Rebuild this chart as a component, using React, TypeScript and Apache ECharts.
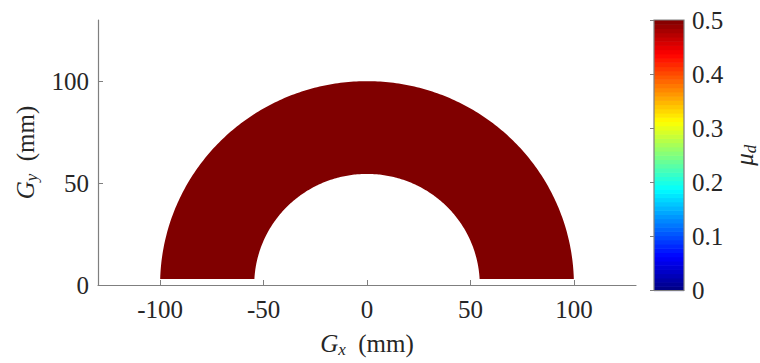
import React, { useEffect, useRef } from "react";
import * as echarts from "echarts";

// axis ranges and ticks
const xRange = [-130, 130];
const yRange = [0, 130];
const xTicks = [-100, -50, 0, 50, 100];
const yTicks = [0, 50, 100];
const cbRange = [0, 0.5];
const cbInterval = 0.1;

// region data: inner radius (mm), outer radius (mm), lower cut height (mm), mu_d
const innerRadius = [54.5];
const outerRadius = [100];
const cutHeight = [3];
const muValues = [0.5];

const cbLevels = 64;

const FONT = "serif";
const LINE = "#7f7f7f";
const TEXT = "#262626";

function jet(t: number): string {
  const c = (v: number) => Math.round(255 * Math.max(0, Math.min(1, v)));
  const r = c(1.5 - Math.abs(4 * t - 3));
  const g = c(1.5 - Math.abs(4 * t - 2));
  const b = c(1.5 - Math.abs(4 * t - 1));
  return `rgb(${r},${g},${b})`;
}
const jetStops = Array.from({ length: 9 }, (_, i) => jet(i / 8));

export default function App() {
  const ref = useRef<HTMLDivElement>(null);
  useEffect(() => {
    const chart = echarts.init(ref.current!, null, { renderer: "svg" });
    const regionData = innerRadius.map((r, i) => [r, outerRadius[i], cutHeight[i], muValues[i]]);
    const levelData = Array.from({ length: cbLevels }, (_, i) => [i]);
    const rich = {
      i: { fontStyle: "italic", fontSize: 25, fontFamily: FONT, color: TEXT },
      s: { fontStyle: "italic", fontSize: 17, fontFamily: FONT, color: TEXT, padding: [12, 0, 0, 0] },
      n: { fontSize: 25, fontFamily: FONT, color: TEXT },
    };
    const nameStyle = { fontSize: 25, fontFamily: FONT, color: TEXT, rich };
    const labelStyle = { fontSize: 25, fontFamily: FONT, color: TEXT };
    chart.setOption({
      animation: false,
      grid: [
        { left: 98, top: 20, width: 538, height: 269.5 },
        { left: 654, top: 20, width: 38, height: 270.5 },
      ],
      visualMap: {
        show: false,
        seriesIndex: 0,
        dimension: 3,
        min: cbRange[0],
        max: cbRange[1],
        inRange: { color: jetStops },
      },
      xAxis: [
        {
          gridIndex: 0,
          type: "value",
          min: xRange[0],
          max: xRange[1],
          axisLine: { show: true, onZero: false, lineStyle: { color: LINE, width: 1.2 } },
          axisTick: { show: true, inside: true, length: 5, customValues: xTicks, lineStyle: { color: LINE } },
          axisLabel: { customValues: xTicks, margin: 12, ...labelStyle },
          splitLine: { show: false },
          name: "{i|G}{s|x}{n|  (mm)}",
          nameLocation: "middle",
          nameGap: 44,
          nameTextStyle: nameStyle,
        },
        { gridIndex: 1, type: "value", min: 0, max: 1, show: false },
      ],
      yAxis: [
        {
          gridIndex: 0,
          type: "value",
          min: yRange[0],
          max: yRange[1],
          axisLine: { show: true, onZero: false, lineStyle: { color: LINE, width: 1.2 } },
          axisTick: { show: true, inside: true, length: 5, customValues: yTicks, lineStyle: { color: LINE } },
          axisLabel: {
            customValues: yTicks,
            margin: 9,
            formatter: "{a|{value}}",
            rich: { a: { fontSize: 25, fontFamily: FONT, color: TEXT } },
          },
          splitLine: { show: false },
          name: "{i|G}{s|y}{n|  (mm)}",
          nameLocation: "middle",
          nameRotate: 90,
          nameGap: 58,
          nameTextStyle: nameStyle,
        },
        {
          gridIndex: 1,
          type: "value",
          position: "right",
          min: cbRange[0],
          max: cbRange[1],
          interval: cbInterval,
          axisLine: { show: false },
          axisTick: { show: true, inside: true, length: 4, lineStyle: { color: LINE } },
          axisLabel: {
            margin: 8,
            ...labelStyle,
            formatter: (v: number) => (v === 0 ? "0" : v.toFixed(1)),
          },
          splitLine: { show: false },
          name: "{i|μ}{s|d}",
          nameLocation: "middle",
          nameRotate: 90,
          nameGap: 46,
          nameTextStyle: nameStyle,
        },
      ],
      series: [
        {
          type: "custom",
          xAxisIndex: 0,
          yAxisIndex: 0,
          data: regionData,
          renderItem: (params: any, api: any) => {
            const ri = api.value(0);
            const ro = api.value(1);
            const yc = api.value(2);
            const N = 240;
            const a0o = Math.asin(yc / ro);
            const a0i = Math.asin(yc / ri);
            const pts: number[][] = [];
            for (let k = 0; k <= N; k++) {
              const a = a0o + ((Math.PI - 2 * a0o) * k) / N;
              pts.push(api.coord([ro * Math.cos(a), ro * Math.sin(a)]));
            }
            for (let k = N; k >= 0; k--) {
              const a = a0i + ((Math.PI - 2 * a0i) * k) / N;
              pts.push(api.coord([ri * Math.cos(a), ri * Math.sin(a)]));
            }
            return {
              type: "polygon",
              shape: { points: pts },
              style: { fill: api.visual("color"), stroke: null },
            };
          },
        },
        {
          type: "custom",
          xAxisIndex: 1,
          yAxisIndex: 1,
          data: levelData,
          renderItem: (params: any, api: any) => {
            const i = api.value(0);
            const span = cbRange[1] - cbRange[0];
            const lo = cbRange[0] + (span * i) / cbLevels;
            const hi = cbRange[0] + (span * (i + 1)) / cbLevels;
            const p1 = api.coord([0, hi]);
            const p2 = api.coord([1, lo]);
            return {
              type: "rect",
              shape: { x: p1[0], y: p1[1], width: p2[0] - p1[0], height: p2[1] - p1[1] + 0.6 },
              style: { fill: jet((i + 0.5) / cbLevels) },
            };
          },
        },
        {
          type: "custom",
          xAxisIndex: 1,
          yAxisIndex: 1,
          data: [[0]],
          z: 5,
          renderItem: (params: any, api: any) => {
            const p1 = api.coord([0, cbRange[1]]);
            const p2 = api.coord([1, cbRange[0]]);
            return {
              type: "rect",
              shape: { x: p1[0], y: p1[1], width: p2[0] - p1[0], height: p2[1] - p1[1] },
              style: { fill: "none", stroke: LINE, lineWidth: 1.2 },
            };
          },
        },
      ],
    });
    return () => chart.dispose();
  }, []);
  return (
    <div
      ref={ref}
      style={{ position: "fixed", left: 0, top: 0, width: 760, height: 363, background: "#fff" }}
    />
  );
}
